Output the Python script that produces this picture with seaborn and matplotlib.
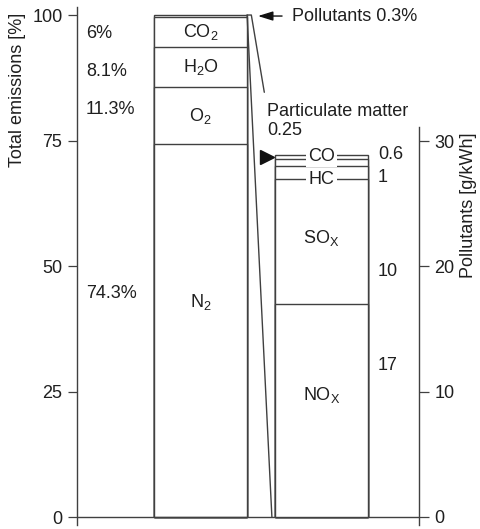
import numpy as np
import pandas as pd
import matplotlib
matplotlib.use("Agg")
import matplotlib.pyplot as plt
import seaborn as sns

# exhaust composition [%], bottom to top
components = ["N2", "O2", "H2O", "CO2", "Pollutants"]
shares = [74.3, 11.3, 8.1, 6.0, 0.3]
share_labels = ["74.3%", "11.3%", "8.1%", "6%"]
component_names = [r"N$_2$", r"O$_2$", r"H$_2$O", r"CO$_2$"]

# pollutants [g/kWh], bottom to top
pollutants = ["NOx", "SOx", "HC", "CO", "PM"]
amounts = [17, 10, 1, 0.6, 0.25]
amount_labels = ["17", "10", "1", "0.6"]
pollutant_names = [r"NO$_\mathrm{X}$", r"SO$_\mathrm{X}$", "HC", "CO"]

left_ticks = [0, 25, 50, 75, 100]
right_ticks = [0, 10, 20, 30]

# label heights (layout only)
share_label_y = [44.6, 81.1, 88.7, 96.4]
name_y = [42.9, 79.95, 89.65, 96.7]
pollutant_name_y = [9.7, 22.3, 26.95, 28.8]
amount_label_y = [12.05, 19.6, 27.1, 28.9]

LC = "#404040"
TC = "#1f1f1f"
FS = 13

sns.set_theme(style="white")
plt.rcParams["font.family"] = ["Liberation Sans", "DejaVu Sans"]
plt.rcParams["mathtext.fontset"] = "custom"
plt.rcParams["mathtext.rm"] = "Liberation Sans"
plt.rcParams["mathtext.it"] = "Liberation Sans:italic"
plt.rcParams["mathtext.bf"] = "Liberation Sans:bold"

W, H = 481, 529
fig = plt.figure(figsize=(W / 100, H / 100), dpi=100)
ax = fig.add_axes([77 / W, 4 / H, 342 / W, 518 / H])
ax2 = ax.twinx()

bars = ["total", "pollutants"]
bw = 0.77

tot = pd.DataFrame({"bar": "total", "part": components, "top": np.cumsum(shares)})
sns.barplot(data=tot, x="bar", y="top", hue="part", hue_order=components[::-1],
            order=bars, palette=dict.fromkeys(components, "white"), dodge=False,
            width=bw, edgecolor=LC, linewidth=1.0, errorbar=None, legend=False, ax=ax)

pol = pd.DataFrame({"bar": "pollutants", "part": pollutants, "top": np.cumsum(amounts)})
sns.barplot(data=pol, x="bar", y="top", hue="part", hue_order=pollutants[::-1],
            order=bars, palette=dict.fromkeys(pollutants, "white"), dodge=False,
            width=bw, edgecolor=LC, linewidth=1.0, errorbar=None, legend=False, ax=ax2)

ax.set_xlim(-1.021, 1.806)
ax.set_ylim(-1.59, 101.6)
ax2.set_ylim(-0.64, 40.7)

for a in (ax, ax2):
    a.set_xticks([])
    a.set_xlabel("")
    a.set_ylabel("")
    for s in a.spines.values():
        s.set_visible(False)

ax.spines["left"].set_visible(True)
ax.spines["left"].set_color(LC)
ax.spines["left"].set_linewidth(1.0)
ax.set_yticks(left_ticks)
ax.tick_params(axis="y", left=True, right=False, direction="out", length=6.5,
               width=0.9, color=LC, labelsize=FS, labelcolor=TC, pad=4)

ax2.spines["right"].set_visible(True)
ax2.spines["right"].set_color(LC)
ax2.spines["right"].set_linewidth(1.0)
ax2.spines["right"].set_bounds(-0.64, 31.1)
ax2.set_yticks(right_ticks)
ax2.tick_params(axis="y", right=True, left=False, labelright=True, labelleft=False,
                direction="out", length=7.5, width=0.9, color=LC, labelsize=FS,
                labelcolor=TC, pad=3.5)

ax.axhline(0, color=LC, lw=1.0, zorder=5)

# labels on the total bar
for lab, yy in zip(share_labels, share_label_y):
    ax.text(-0.946, yy, lab, ha="left", va="center", fontsize=FS, color=TC)
for lab, yy in zip(component_names, name_y):
    ax.text(0, yy, lab, ha="center", va="center", fontsize=FS, color=TC)

# labels on the pollutant bar
for lab, yy in zip(pollutant_names, pollutant_name_y):
    ax2.text(1, yy, lab, ha="center", va="center", fontsize=FS, color=TC, zorder=6,
             bbox=dict(boxstyle="square,pad=0.12", fc="white", ec="none"))
for lab, yy in zip(amount_labels, amount_label_y):
    ax2.text(1.467, yy, lab, ha="left", va="center", fontsize=FS, color=TC)

ax2.text(0.55, 31.6, "Particulate matter\n0.25", ha="left", va="center",
         fontsize=FS, color=TC, linespacing=1.2)
ax2.plot([0.55], [28.75], marker=">", markersize=10, color="#111111", ls="none")

# zoom lines from the 0.3% slice to the pollutant bar
main_right = 0 + bw / 2
poll_left = 1 - bw / 2
fig.canvas.draw()
to_ax = ax.transData.inverted()
pb_top = to_ax.transform(ax2.transData.transform((poll_left, sum(amounts))))
ledge = main_right + 0.035
frac = 0.55
ax.plot([main_right, poll_left - 0.025], [100, 0], color=LC, lw=1.0, zorder=5)
ax.plot([main_right, ledge, ledge + frac * (pb_top[0] - ledge)],
        [100, 100, 100 + frac * (pb_top[1] - 100)], color=LC, lw=1.0, zorder=5)

ax.annotate("", xy=(0.475, 99.8), xytext=(0.674, 99.8),
            arrowprops=dict(arrowstyle="-|>,head_length=0.9,head_width=0.28",
                            color="#111111", lw=1.0, mutation_scale=10,
                            shrinkA=0, shrinkB=0))
ax.text(0.756, 99.8, "Pollutants 0.3%", ha="left", va="center", fontsize=FS, color=TC)

fig.text(18 / W, 1 - 90 / H, "Total emissions [%]", rotation=90, ha="center",
         va="center", fontsize=FS, color=TC)
fig.text(469 / W, 1 - 205 / H, "Pollutants [g/kWh]", rotation=90, ha="center",
         va="center", fontsize=FS, color=TC)

fig.savefig("out.png", dpi=100)
